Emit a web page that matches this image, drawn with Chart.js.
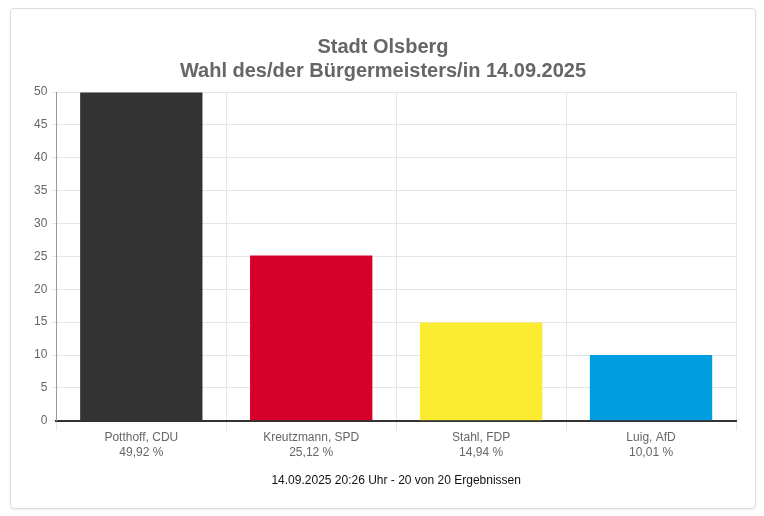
<!DOCTYPE html>
<html>
<head>
<meta charset="utf-8">
<script src="https://cdn.jsdelivr.net/npm/chart.js@4/dist/chart.umd.min.js"></script>
<style>
  html, body { margin: 0; padding: 0; background: #fff; }
  #card {
    position: absolute; left: 10px; top: 8px; width: 744px; height: 499px;
    border: 1px solid #dcdcdc; border-radius: 4px;
    box-shadow: 0 1px 3px rgba(0,0,0,0.08);
    background: #fff;
  }
  #wrap { position: absolute; left: 0; top: 0; width: 744px; height: 499px; }
</style>
</head>
<body>
<div id="card"><div id="wrap"><canvas id="c"></canvas></div></div>
<script>
const candidates = ['Potthoff, CDU', 'Kreutzmann, SPD', 'Stahl, FDP', 'Luig, AfD'];
const values = [49.92, 25.12, 14.94, 10.01];
const valueLabels = ['49,92 %', '25,12 %', '14,94 %', '10,01 %'];
const barColors = ['#333333', '#d7002a', '#fbec31', '#009ee0'];
const titleLines = ['Stadt Olsberg', 'Wahl des/der Bürgermeisters/in 14.09.2025'];
const footerText = '14.09.2025 20:26 Uhr - 20 von 20 Ergebnissen';

Chart.defaults.font.family = "'Liberation Sans', Arial, Helvetica, sans-serif";
Chart.defaults.color = '#666';

new Chart(document.getElementById('c'), {
  type: 'bar',
  data: {
    labels: candidates.map((c, i) => [c, valueLabels[i]]),
    datasets: [{
      data: values,
      backgroundColor: barColors,
      borderWidth: 0
    }]
  },
  options: {
    responsive: true,
    maintainAspectRatio: false,
    animation: false,
    layout: { padding: { left: 19, right: 19, top: 16, bottom: 20 } },
    plugins: {
      legend: { display: false },
      tooltip: { enabled: false },
      title: {
        display: true,
        text: titleLines,
        color: '#666',
        font: { size: 20, weight: 'bold' },
        padding: { top: 10, bottom: 9 },
        lineHeight: 1.32
      }
    },
    scales: {
      x: {
        grid: {
          color: '#e6e6e6',
          tickLength: 10,
          offset: true
        },
        border: { color: '#333', width: 2 },
        ticks: { color: '#666', font: { size: 12 }, padding: 0 },
        title: {
          display: true,
          text: footerText,
          color: '#111',
          font: { size: 12 },
          padding: { top: 14, bottom: 0 }
        }
      },
      y: {
        min: 0,
        max: 50,
        ticks: { stepSize: 5, color: '#666', font: { size: 12 }, padding: 4 },
        grid: { color: '#e6e6e6', tickLength: 5 },
        border: { color: '#999', width: 1 }
      }
    }
  }
});
</script>
</body>
</html>
